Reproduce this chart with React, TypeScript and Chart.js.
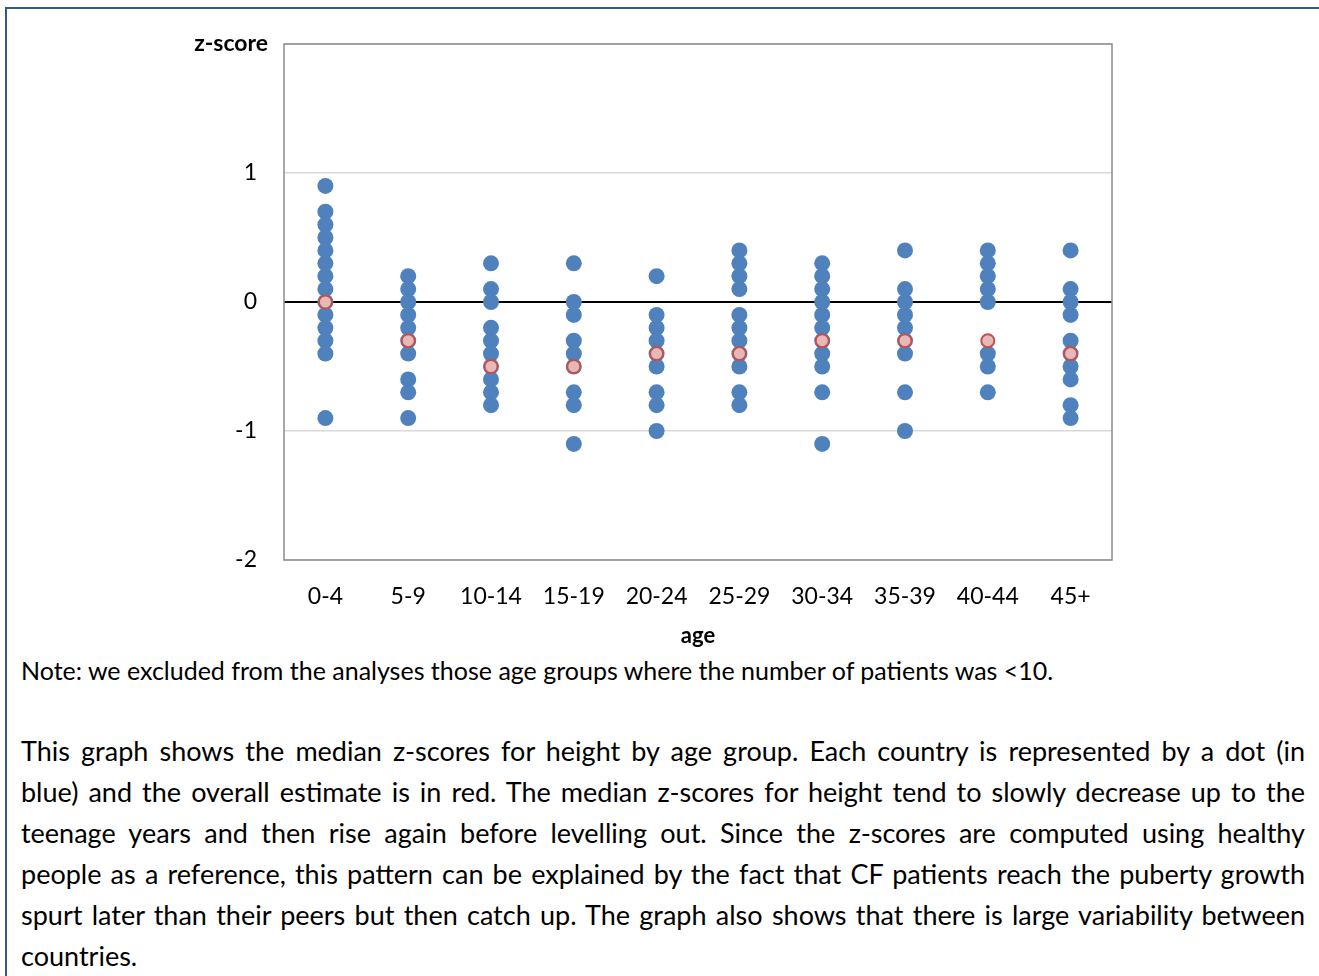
import React, { useEffect, useRef } from "react";
import { Chart, registerables } from "chart.js";

Chart.register(...registerables);

const ageGroups = ["0-4", "5-9", "10-14", "15-19", "20-24", "25-29", "30-34", "35-39", "40-44", "45+"];

const z0to4 = [0.9, 0.7, 0.6, 0.5, 0.4, 0.3, 0.2, 0.1, 0, -0.1, -0.2, -0.3, -0.4, -0.9];
const z5to9 = [0.2, 0.1, 0, -0.1, -0.2, -0.3, -0.4, -0.6, -0.7, -0.9];
const z10to14 = [0.3, 0.1, 0, -0.2, -0.3, -0.4, -0.5, -0.6, -0.7, -0.8];
const z15to19 = [0.3, 0, -0.1, -0.3, -0.4, -0.5, -0.7, -0.8, -1.1];
const z20to24 = [0.2, -0.1, -0.2, -0.3, -0.4, -0.5, -0.7, -0.8, -1.0];
const z25to29 = [0.4, 0.3, 0.2, 0.1, -0.1, -0.2, -0.3, -0.4, -0.5, -0.7, -0.8];
const z30to34 = [0.3, 0.2, 0.1, 0, -0.1, -0.2, -0.3, -0.4, -0.5, -0.7, -1.1];
const z35to39 = [0.4, 0.1, 0, -0.1, -0.2, -0.3, -0.4, -0.7, -1.0];
const z40to44 = [0.4, 0.3, 0.2, 0.1, 0, -0.4, -0.5, -0.7];
const z45plus = [0.4, 0.1, 0, -0.1, -0.3, -0.4, -0.5, -0.6, -0.8, -0.9];

const countryScores = [z0to4, z5to9, z10to14, z15to19, z20to24, z25to29, z30to34, z35to39, z40to44, z45plus];
const overallMedians = [0, -0.3, -0.5, -0.5, -0.4, -0.4, -0.3, -0.3, -0.3, -0.4];

const yTicks = [-2, -1, 0, 1];

const noteText = "Note: we excluded from the analyses those age groups where the number of patients was <10.";
const paragraphLines = [
  "This graph shows the median z-scores for height by age group. Each country is represented by a dot (in",
  "blue) and the overall estimate is in red. The median z-scores for height tend to slowly decrease up to the",
  "teenage years and then rise again before levelling out. Since the z-scores are computed using healthy",
  "people as a reference, this pattern can be explained by the fact that CF patients reach the puberty growth",
  "spurt later than their peers but then catch up. The graph also shows that there is large variability between",
  "countries.",
];

const FONT = "Lato, 'Open Sans', sans-serif";

export default function App() {
  const canvasRef = useRef<HTMLCanvasElement | null>(null);

  useEffect(() => {
    const canvas = canvasRef.current;
    if (!canvas) return;

    const countryPoints = countryScores.flatMap((vals, i) => vals.map((v) => ({ x: ageGroups[i], y: v })));
    const medianPoints = overallMedians.map((v, i) => ({ x: ageGroups[i], y: v }));

    const framePlugin = {
      id: "frameAndLabel",
      afterDraw(chart: any) {
        const { ctx, chartArea } = chart;
        ctx.save();
        ctx.strokeStyle = "#8c8c8c";
        ctx.lineWidth = 1.5;
        ctx.strokeRect(chartArea.left, chartArea.top, chartArea.right - chartArea.left, chartArea.bottom - chartArea.top);
        ctx.fillStyle = "#000";
        ctx.font = "bold 23px " + FONT;
        ctx.textAlign = "right";
        ctx.textBaseline = "middle";
        ctx.fillText("z-score", 268, 44);
        ctx.restore();
      },
    };

    const chart = new Chart(canvas, {
      type: "scatter",
      data: {
        labels: ageGroups,
        datasets: [
          {
            label: "Overall",
            data: medianPoints as any,
            backgroundColor: "#E6B9B8",
            borderColor: "#C0504D",
            borderWidth: 2,
            pointRadius: 6.5,
            pointHoverRadius: 6.5,
            order: 0,
          },
          {
            label: "Countries",
            data: countryPoints as any,
            backgroundColor: "#4F81BD",
            borderColor: "#4F81BD",
            borderWidth: 0,
            pointRadius: 8,
            pointHoverRadius: 8,
            order: 1,
          },
        ],
      },
      options: {
        responsive: false,
        animation: false,
        events: [],
        layout: { padding: { top: 44, right: 207, left: 0, bottom: 0 } },
        plugins: {
          legend: { display: false },
          tooltip: { enabled: false },
          title: { display: false },
        },
        scales: {
          x: {
            type: "category",
            labels: ageGroups,
            offset: true,
            grid: { display: false, drawTicks: false },
            border: { display: false },
            ticks: {
              color: "#000",
              padding: 23,
              font: { family: FONT, size: 23 },
              maxRotation: 0,
              autoSkip: false,
            },
            title: {
              display: true,
              text: "age",
              color: "#000",
              font: { family: FONT, size: 22, weight: "bold" },
              padding: { top: 0, bottom: 1 },
            },
            afterFit(scale: any) {
              scale.height = 90;
            },
          },
          y: {
            min: -2,
            max: 2,
            afterBuildTicks(scale: any) {
              scale.ticks = [...yTicks, 2].map((v) => ({ value: v }));
            },
            grid: {
              drawTicks: false,
              color: (ctx: any) => (ctx.tick && ctx.tick.value === 0 ? "#000000" : "#D9D9D9"),
              lineWidth: (ctx: any) => (ctx.tick && ctx.tick.value === 0 ? 2 : 1.5),
            },
            border: { display: false },
            ticks: {
              color: "#000",
              padding: 27,
              font: { family: FONT, size: 23 },
              callback: (v: any) => (yTicks.includes(Number(v)) ? String(v) : ""),
            },
            afterFit(scale: any) {
              scale.width = 284;
            },
          },
        },
      },
      plugins: [framePlugin],
    });

    return () => chart.destroy();
  }, []);

  return (
    <div style={{ position: "absolute", left: 0, top: 0, width: 1319, height: 976, overflow: "hidden", background: "#fff" }}>
      <div
        style={{
          position: "absolute",
          left: 5,
          top: 7,
          width: 1314,
          height: 969,
          boxSizing: "border-box",
          borderLeft: "2px solid #2E5B8C",
          borderTop: "2px solid #2E5B8C",
        }}
      />
      <canvas ref={canvasRef} width={1319} height={650} style={{ position: "absolute", left: 0, top: 0, display: "block" }} />
      <div
        style={{
          position: "absolute",
          left: 21,
          top: 650,
          fontFamily: FONT,
          fontSize: 25,
          lineHeight: "40px",
          color: "#000",
          whiteSpace: "nowrap",
        }}
      >
        {noteText}
      </div>
      <div style={{ position: "absolute", left: 21, top: 730, width: 1284, fontFamily: FONT, fontSize: 27, color: "#000" }}>
        {paragraphLines.map((line, i) => (
          <div
            key={i}
            style={{
              height: 41,
              lineHeight: "41px",
              textAlign: i === paragraphLines.length - 1 ? "left" : "justify",
              textAlignLast: i === paragraphLines.length - 1 ? "left" : "justify",
              whiteSpace: "nowrap",
            } as any}
          >
            {line}
          </div>
        ))}
      </div>
    </div>
  );
}
